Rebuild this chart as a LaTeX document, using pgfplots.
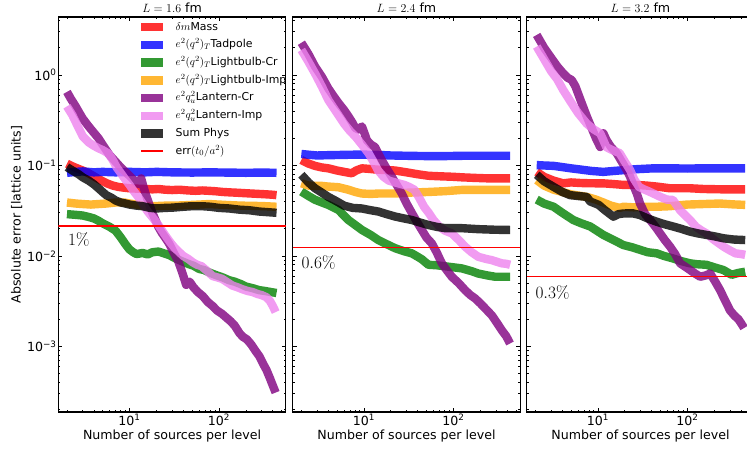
\documentclass[border=0pt]{standalone}
\usepackage[no-math]{fontspec}
\setmainfont{DejaVu Sans}
\usepackage{pgfplots}
\pgfplotsset{compat=1.18}

\definecolor{cRed}{RGB}{255,0,0}
\definecolor{cBlue}{RGB}{0,0,255}
\definecolor{cGreen}{RGB}{0,128,0}
\definecolor{cOrange}{RGB}{255,165,0}
\definecolor{cPurple}{RGB}{128,0,128}
\definecolor{cViolet}{RGB}{238,130,238}

\tikzset{band/.style={line width=8.4pt, draw opacity=0.8, line join=round},
         errline/.style={draw=red, line width=1.5pt}}

\pgfplotsset{
  every axis/.append style={
    scale only axis, width=227.6pt, height=395pt,
    xmin=1.6, xmax=560, ymin=1.89e-4, ymax=4.37,
    tick align=inside, major tick length=4.2pt, minor tick length=2.1pt,
    every tick/.style={black, line width=0.7pt},
    axis line style={line width=1.1pt},
    xtick={10,100}, xticklabels={10\textsuperscript{1},10\textsuperscript{2}},
    minor xtick={2,3,4,5,6,7,8,9,20,30,40,50,60,70,80,90,200,300,400,500},
    ytick={1e-3,1e-2,1e-1,1},
    minor ytick={2e-4,3e-4,4e-4,5e-4,6e-4,7e-4,8e-4,9e-4,2e-3,3e-3,4e-3,5e-3,6e-3,7e-3,8e-3,9e-3,2e-2,3e-2,4e-2,5e-2,6e-2,7e-2,8e-2,9e-2,0.2,0.3,0.4,0.5,0.6,0.7,0.8,0.9,2,3,4},
    tick label style={font=\fontsize{12.6}{14}\selectfont},
    xticklabel style={anchor=base, yshift=-13pt},
    yticklabel style={inner xsep=1.5pt},
    xlabel={Number of sources per level},
  },
  every axis title/.style={at={(axis description cs:0.5,1)}, anchor=base, yshift=4.5pt, inner sep=0pt, font=\fontsize{12.6}{14}\selectfont},
  every axis x label/.style={at={(axis description cs:0.5,0)}, anchor=base, yshift=-27.5pt, font=\fontsize{12.6}{14}\selectfont},
  every axis y label/.style={at={(axis description cs:-0.183,0.5)}, rotate=90, anchor=center, font=\fontsize{12.6}{14}\selectfont},
  legend image code/.code={\draw[#1] (0pt,0pt) -- (22pt,0pt); \path (28pt,0pt);},
}

\begin{document}
\begin{tikzpicture}
\useasboundingbox (0,0) rectangle (747pt,450pt);

% ---------------- Panel 1 ----------------
\begin{loglogaxis}[at={(58.3pt,38pt)}, anchor=south west,
  title={$L=1.6$ fm},
  ylabel={Absolute error [lattice units]},
  yticklabels={10\textsuperscript{−3},10\textsuperscript{−2},10\textsuperscript{−1},10\textsuperscript{0}},
  legend style={at={(axis description cs:0.333,0.992)}, anchor=north west, draw=none, fill=none,
    font=\fontsize{10.9}{12}\selectfont, row sep=7.9pt,
    nodes={inner ysep=0pt, text height=7.8pt, text depth=2pt}},
  legend cell align=left]
\addplot[band, cRed] coordinates {(2,0.105)(2.3,0.098)(2.6,0.093)(3,0.088)(3.5,0.082)(4,0.076)(4.5,0.071)(5,0.067)(5.7,0.063)(6.5,0.060)(7.5,0.058)(8.5,0.057)(10,0.056)(12,0.0555)(15,0.055)(18,0.0545)(21,0.055)(25,0.054)(30,0.0535)(36,0.054)(45,0.053)(55,0.0525)(65,0.053)(77,0.0525)(90,0.052)(110,0.051)(130,0.0505)(160,0.050)(190,0.0495)(230,0.049)(280,0.0485)(340,0.048)(400,0.0475)(440,0.047)};
\addlegendentry{$\delta m$Mass}
\addplot[band, cBlue] coordinates {(2,0.083)(2.5,0.085)(3,0.086)(4,0.084)(5,0.085)(7,0.084)(10,0.085)(15,0.084)(20,0.085)(30,0.084)(50,0.0835)(80,0.084)(120,0.0835)(200,0.083)(300,0.0835)(440,0.083)};
\addlegendentry{$e^2(q^2)_T$Tadpole}
\addplot[band, cGreen] coordinates {(2,0.029)(2.5,0.0285)(3,0.028)(3.5,0.027)(4,0.026)(4.5,0.0245)(5,0.023)(6,0.021)(7,0.019)(8,0.016)(9,0.0135)(10,0.0118)(11,0.011)(12,0.0105)(14,0.0108)(16,0.0104)(18,0.011)(21,0.0112)(25,0.0106)(28,0.0102)(32,0.0095)(38,0.0088)(45,0.0082)(52,0.0078)(60,0.0072)(68,0.0070)(80,0.0065)(95,0.0061)(110,0.0058)(130,0.0054)(150,0.0052)(175,0.0049)(200,0.0046)(240,0.0044)(280,0.0042)(330,0.0041)(380,0.0040)(440,0.0039)};
\addlegendentry{$e^2(q^2)_T$Lightbulb-Cr}
\addplot[band, cOrange] coordinates {(2,0.039)(2.5,0.038)(3,0.0375)(3.7,0.037)(4.5,0.0375)(5.5,0.038)(7,0.039)(8.8,0.039)(10,0.038)(12,0.037)(14,0.036)(18,0.0355)(25,0.036)(32,0.036)(45,0.0365)(60,0.037)(77,0.0375)(100,0.037)(130,0.0365)(180,0.036)(250,0.0358)(330,0.0355)(440,0.035)};
\addlegendentry{$e^2(q^2)_T$Lightbulb-Imp}
\addplot[band, cPurple] coordinates {(2,0.65)(2.2,0.55)(2.5,0.45)(2.8,0.37)(3,0.33)(3.5,0.27)(4,0.23)(4.5,0.2)(5,0.17)(6,0.13)(7,0.11)(8,0.095)(9,0.085)(10,0.077)(11,0.07)(12,0.065)(12.8,0.062)(13.5,0.072)(14.2,0.06)(15,0.05)(16.5,0.038)(18,0.03)(19.5,0.025)(21,0.021)(23,0.018)(25,0.016)(28,0.0135)(31,0.011)(35,0.0088)(39,0.0065)(43,0.0048)(47,0.0052)(52,0.0045)(58,0.0040)(66,0.0036)(75,0.0031)(85,0.0028)(95,0.0025)(108,0.0023)(120,0.0021)(135,0.0019)(150,0.0017)(170,0.0014)(185,0.00128)(205,0.0012)(230,0.00105)(255,0.0009)(283,0.00078)(310,0.00065)(340,0.00055)(370,0.00045)(400,0.00037)(430,0.00031)};
\addlegendentry{$e^2q_u^2$Lantern-Cr}
\addplot[band, cViolet] coordinates {(2,0.45)(2.3,0.36)(2.6,0.28)(3,0.21)(3.5,0.18)(4,0.165)(4.5,0.155)(5,0.148)(5.8,0.136)(6.5,0.115)(7.2,0.095)(8.1,0.081)(9,0.07)(10,0.061)(11,0.053)(12.5,0.045)(14,0.038)(16,0.031)(18.5,0.026)(21,0.022)(25,0.017)(28,0.0145)(32,0.0123)(36,0.011)(40,0.010)(46,0.0092)(51,0.0085)(57,0.008)(64,0.0077)(74,0.0068)(85,0.006)(96,0.0058)(108,0.0056)(125,0.0051)(142,0.0047)(162,0.0045)(182,0.0043)(210,0.0041)(237,0.004)(270,0.0038)(300,0.0037)(340,0.0035)(370,0.0032)(400,0.0028)(430,0.0024)};
\addlegendentry{$e^2q_u^2$Lantern-Imp}
\addplot[band, black] coordinates {(2,0.096)(2.3,0.088)(2.7,0.08)(3,0.074)(3.5,0.068)(4,0.062)(4.5,0.056)(5,0.051)(5.5,0.047)(6.3,0.044)(7,0.041)(8,0.039)(9,0.038)(10,0.037)(12,0.036)(14,0.0355)(17,0.034)(20,0.0335)(25,0.034)(30,0.0342)(40,0.035)(50,0.0355)(65,0.0355)(80,0.035)(100,0.034)(130,0.0335)(170,0.0325)(220,0.032)(280,0.031)(350,0.0305)(440,0.030)};
\addlegendentry{Sum Phys}
\addplot[errline] coordinates {(1.6,0.0215)(560,0.0215)};
\addlegendentry{err$(t_0/a^2)$}
\node[anchor=west, font=\fontsize{18}{20}\selectfont, inner sep=0pt] at (axis cs:2.05,0.0152) {$1\%$};
\end{loglogaxis}

% ---------------- Panel 2 ----------------
\begin{loglogaxis}[at={(292.7pt,38pt)}, anchor=south west,
  title={$L=2.4$ fm}, yticklabels={}]
\addplot[band, cRed] coordinates {(2,0.115)(2.4,0.105)(2.84,0.099)(3.4,0.095)(4,0.093)(5,0.088)(6,0.085)(7.3,0.082)(8.2,0.088)(9.5,0.093)(11,0.092)(14,0.09)(18,0.089)(22.3,0.088)(30,0.084)(40,0.08)(52.6,0.077)(70,0.076)(100,0.075)(124,0.074)(170,0.073)(250,0.072)(330,0.072)(431,0.072)};
\addplot[band, cBlue] coordinates {(2,0.134)(2.5,0.131)(3,0.129)(4,0.13)(6,0.131)(9,0.132)(14,0.131)(20,0.129)(30,0.128)(50,0.127)(80,0.127)(130,0.128)(200,0.128)(300,0.128)(431,0.128)};
\addplot[band, cGreen] coordinates {(2,0.0515)(2.4,0.046)(2.84,0.0418)(3.4,0.039)(4,0.0367)(5.2,0.0322)(6.7,0.025)(8,0.022)(9.5,0.0194)(12,0.017)(14.5,0.015)(18,0.0135)(22.3,0.0122)(28,0.0113)(34.3,0.0107)(40,0.0098)(44.4,0.0092)(52.6,0.008)(65,0.0079)(80.9,0.0077)(100,0.0075)(124,0.0073)(160,0.0068)(190,0.0064)(240,0.0061)(293,0.0059)(431,0.0059)};
\addplot[band, cOrange] coordinates {(2,0.0636)(2.4,0.06)(2.84,0.0595)(3.4,0.0595)(4,0.0585)(5.2,0.0575)(6.7,0.054)(8,0.051)(9.5,0.049)(12,0.0485)(14.5,0.049)(22.3,0.049)(30,0.05)(40,0.0505)(52.6,0.051)(80,0.052)(124,0.0537)(190,0.0537)(293,0.0537)(431,0.0537)};
\addplot[band, cPurple] coordinates {(2,2.27)(2.4,1.7)(2.84,1.24)(3.4,0.95)(4.0,0.71)(4.6,0.58)(5.2,0.49)(6.0,0.41)(6.7,0.35)(7.4,0.3)(8.0,0.26)(8.7,0.25)(9.5,0.27)(10.1,0.23)(10.8,0.19)(12,0.17)(13.3,0.16)(14.5,0.135)(15.8,0.115)(18,0.092)(20.5,0.075)(23.5,0.06)(26.5,0.049)(30,0.038)(34.3,0.030)(39,0.024)(44.4,0.0194)(50,0.016)(57.4,0.0138)(65,0.011)(74.3,0.0083)(85,0.0069)(96,0.0059)(115,0.005)(135,0.0042)(155,0.0037)(175,0.0034)(200,0.003)(230,0.0026)(270,0.0022)(310,0.0018)(350,0.0015)(390,0.0013)(430,0.00108)};
\addplot[band, cViolet] coordinates {(2,1.89)(2.4,1.4)(2.84,1.04)(3.4,0.74)(4.0,0.53)(5.0,0.38)(6.0,0.29)(7.0,0.24)(8.0,0.21)(9.5,0.17)(11.3,0.136)(12.8,0.11)(14.3,0.089)(16.6,0.075)(19,0.068)(21.1,0.066)(25,0.063)(28.4,0.061)(32,0.058)(36.6,0.054)(41,0.045)(47,0.035)(53,0.03)(60,0.025)(70,0.021)(81,0.019)(96,0.0178)(115,0.015)(135,0.0127)(160,0.011)(190,0.0098)(230,0.0093)(269,0.009)(310,0.0086)(348,0.0083)(390,0.0082)(431,0.008)};
\addplot[band, black] coordinates {(2,0.079)(2.4,0.065)(2.84,0.056)(3.4,0.05)(4,0.045)(5,0.04)(6,0.036)(7.5,0.034)(9.5,0.0335)(12,0.032)(14.5,0.031)(18,0.029)(22.3,0.0273)(28,0.026)(34.3,0.025)(42,0.0235)(52.6,0.022)(65,0.021)(80.9,0.0203)(124,0.0203)(190,0.0198)(293,0.0195)(431,0.0194)};
\addplot[errline] coordinates {(1.6,0.0124)(560,0.0124)};
\node[anchor=west, font=\fontsize{18}{20}\selectfont, inner sep=0pt] at (axis cs:2.0,0.0084) {$0.6\%$};
\end{loglogaxis}

% ---------------- Panel 3 ----------------
\begin{loglogaxis}[at={(526.7pt,38pt)}, anchor=south west,
  title={$L=3.2$ fm}, yticklabels={}]
\addplot[band, cRed] coordinates {(2.07,0.085)(2.5,0.075)(3.2,0.068)(4.1,0.0635)(5,0.065)(6.5,0.064)(8.2,0.0636)(11.5,0.0635)(16,0.062)(19.3,0.061)(27.2,0.061)(35,0.06)(45.5,0.0585)(64,0.056)(107,0.056)(151,0.055)(250,0.0545)(443,0.0545)};
\addplot[band, cBlue] coordinates {(2.07,0.101)(2.5,0.1)(3.2,0.099)(4,0.096)(5,0.093)(6.5,0.09)(8.5,0.087)(11.5,0.085)(15,0.087)(20,0.089)(27,0.091)(41.7,0.093)(64,0.093)(100,0.0925)(151,0.093)(232,0.093)(443,0.093)};
\addplot[band, cGreen] coordinates {(2.07,0.042)(2.5,0.038)(3.2,0.035)(4,0.03)(5.3,0.025)(6.5,0.023)(8.2,0.0212)(11.5,0.0171)(15,0.015)(19.3,0.0132)(24,0.0125)(29.6,0.0117)(36,0.011)(45.5,0.0107)(55,0.01)(69,0.0094)(85,0.0088)(107,0.0083)(130,0.0081)(163,0.008)(200,0.0075)(253,0.007)(312,0.0062)(370,0.0065)(443,0.0067)};
\addplot[band, cOrange] coordinates {(2.07,0.069)(2.5,0.06)(3.2,0.054)(4,0.051)(5,0.048)(7.5,0.045)(9.5,0.042)(11.5,0.039)(14,0.036)(17.5,0.034)(19.3,0.035)(25,0.0345)(35,0.035)(45.5,0.035)(64,0.0355)(98.7,0.037)(150,0.0375)(232,0.038)(320,0.0372)(443,0.0367)};
\addplot[band, cPurple] coordinates {(2.07,2.77)(2.5,2.0)(3.0,1.55)(3.5,1.25)(4.1,1.04)(4.6,0.93)(5.1,0.88)(5.6,0.75)(6.3,0.55)(7.5,0.35)(8.5,0.26)(9.5,0.2)(10.6,0.16)(11.1,0.2)(11.5,0.227)(12.5,0.19)(14,0.16)(16.2,0.137)(19,0.105)(21,0.089)(22.9,0.075)(25,0.06)(27.2,0.049)(29.6,0.038)(33.7,0.029)(38.3,0.025)(44,0.021)(49.5,0.0178)(56,0.015)(64,0.0127)(73,0.0105)(83,0.0083)(95,0.0076)(107,0.007)(122,0.0064)(139,0.0059)(160,0.0061)(180,0.0064)(205,0.0052)(232,0.0042)(265,0.0032)(300,0.0025)(335,0.0022)(372,0.002)(400,0.0018)(430,0.0016)};
\addplot[band, cViolet] coordinates {(2.07,2.06)(2.5,1.5)(3.0,1.1)(3.5,0.9)(4.1,0.68)(5,0.5)(6,0.38)(7.5,0.29)(9,0.25)(10.6,0.227)(11.5,0.19)(12.4,0.16)(14,0.15)(16,0.142)(17.5,0.137)(20,0.11)(22.9,0.089)(25.5,0.07)(28.8,0.058)(32,0.055)(36.6,0.052)(41.7,0.049)(50,0.045)(59,0.042)(69,0.0416)(83,0.032)(98.7,0.027)(107,0.025)(125,0.021)(145,0.019)(163,0.0178)(200,0.015)(253,0.0127)(300,0.0115)(345,0.0107)(400,0.0105)(443,0.0103)};
\addplot[band, black] coordinates {(2.07,0.079)(2.5,0.067)(3.2,0.058)(4,0.051)(4.9,0.047)(6,0.046)(7.5,0.045)(8.2,0.04)(10.2,0.0367)(12,0.032)(14.9,0.0272)(17,0.029)(19.3,0.0295)(24.6,0.0296)(29.6,0.0283)(36,0.026)(45.5,0.0239)(55,0.0225)(69,0.0212)(85,0.02)(107,0.0186)(130,0.0178)(163,0.0171)(200,0.0165)(253,0.0157)(330,0.0152)(443,0.015)};
\addplot[errline] coordinates {(1.6,0.0059)(560,0.0059)};
\node[anchor=west, font=\fontsize{18}{20}\selectfont, inner sep=0pt] at (axis cs:2.0,0.0040) {$0.3\%$};
\end{loglogaxis}
\end{tikzpicture}
\end{document}
